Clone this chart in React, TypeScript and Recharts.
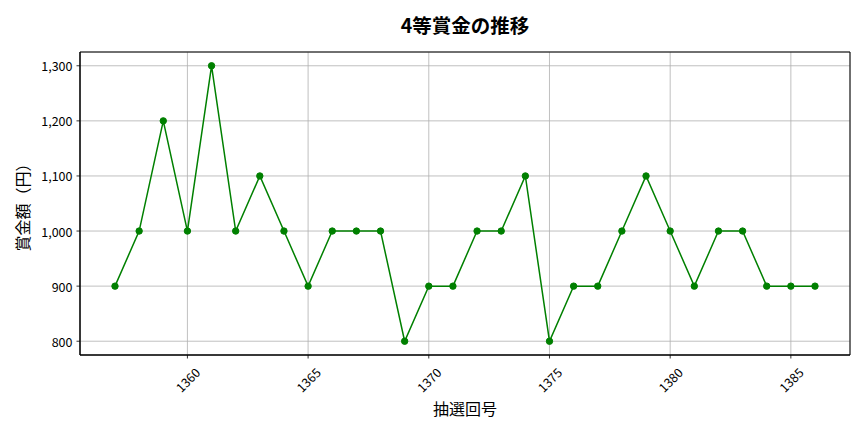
import React from 'react';
import { LineChart, Line, XAxis, YAxis, CartesianGrid, Label, ReferenceArea } from 'recharts';

const rounds = [1357, 1358, 1359, 1360, 1361, 1362, 1363, 1364, 1365, 1366, 1367, 1368, 1369, 1370, 1371, 1372, 1373, 1374, 1375, 1376, 1377, 1378, 1379, 1380, 1381, 1382, 1383, 1384, 1385, 1386];
const prizes = [900, 1000, 1200, 1000, 1300, 1000, 1100, 1000, 900, 1000, 1000, 1000, 800, 900, 900, 1000, 1000, 1100, 800, 900, 900, 1000, 1100, 1000, 900, 1000, 1000, 900, 900, 900];
const xTicks = [1360, 1365, 1370, 1375, 1380, 1385];
const yTicks = [800, 900, 1000, 1100, 1200, 1300];

const data = rounds.map((r, i) => ({ round: r, prize: prizes[i] }));

const FONT = '"Noto Sans CJK JP", "Noto Sans", sans-serif';
const X_DOMAIN: [number, number] = [1355.55, 1387.45];
const Y_DOMAIN: [number, number] = [775, 1325];

const XTick = (props: any) => {
  const { x, y, payload } = props;
  const cy = y + 19;
  return (
    <text x={x} y={cy} textAnchor="middle" dominantBaseline="central" fontSize={12.5} fontFamily={FONT} fill="#000" transform={`rotate(-45, ${x}, ${cy})`}>
      {payload.value}
    </text>
  );
};

const YTick = (props: any) => {
  const { x, y, payload } = props;
  return (
    <text x={x - 2} y={y} textAnchor="end" dominantBaseline="central" fontSize={12.5} fontFamily={FONT} fill="#000">
      {Number(payload.value).toLocaleString('en-US')}
    </text>
  );
};

export default function App() {
  return (
    <div style={{ position: 'absolute', left: 0, top: 0, width: 864, height: 432, background: '#fff' }}>
      <div
        style={{
          position: 'absolute',
          left: 0,
          width: 930,
          top: 25,
          transform: 'translateY(-50%)',
          textAlign: 'center',
          fontFamily: FONT,
          fontWeight: 'bold',
          fontSize: 19.5,
          lineHeight: 1,
          color: '#000',
        }}
      >
        4等賞金の推移
      </div>
      <LineChart width={864} height={432} data={data} margin={{ top: 52, right: 14, left: 0, bottom: 0 }}>
        <CartesianGrid stroke="#b0b0b0" strokeWidth={0.8} />
        <XAxis
          dataKey="round"
          type="number"
          domain={X_DOMAIN}
          ticks={xTicks}
          allowDataOverflow
          height={77}
          tick={<XTick />}
          tickSize={3.5}
          tickLine={{ stroke: '#000', strokeWidth: 0.8 }}
          axisLine={{ stroke: '#000', strokeWidth: 1 }}
        >
          <Label
            content={({ viewBox }: any) => (
              <text x={viewBox.x + viewBox.width / 2} y={viewBox.y + 53} textAnchor="middle" dominantBaseline="central" fontSize={16} fontFamily={FONT} fill="#000">
                抽選回号
              </text>
            )}
          />
        </XAxis>
        <YAxis
          type="number"
          domain={Y_DOMAIN}
          ticks={yTicks}
          allowDataOverflow
          width={80}
          tick={<YTick />}
          tickSize={3.5}
          tickLine={{ stroke: '#000', strokeWidth: 0.8 }}
          axisLine={{ stroke: '#000', strokeWidth: 1 }}
        >
          <Label
            content={({ viewBox }: any) => {
              const cx = 22;
              const cy = viewBox.y + viewBox.height / 2;
              return (
                <text x={cx} y={cy} textAnchor="middle" dominantBaseline="central" fontSize={16} fontFamily={FONT} fill="#000" transform={`rotate(-90, ${cx}, ${cy})`}>
                  賞金額（円）
                </text>
              );
            }}
          />
        </YAxis>
        <ReferenceArea x1={X_DOMAIN[0]} x2={X_DOMAIN[1]} y1={Y_DOMAIN[0]} y2={Y_DOMAIN[1]} fill="none" fillOpacity={0} stroke="#000" strokeWidth={1} strokeOpacity={1} ifOverflow="visible" />
        <Line
          dataKey="prize"
          stroke="#008000"
          strokeWidth={1.5}
          dot={{ r: 3.2, fill: '#008000', stroke: '#008000', strokeWidth: 1 }}
          activeDot={false}
          isAnimationActive={false}
        />
      </LineChart>
    </div>
  );
}
